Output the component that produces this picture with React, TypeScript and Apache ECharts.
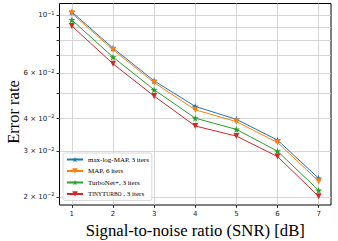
import React, { useEffect, useRef } from "react";
import * as echarts from "echarts";

const snr = [1, 2, 3, 4, 5, 6, 7];
const maxLogMap = [0.1031, 0.0748, 0.056, 0.0446, 0.0398, 0.0331, 0.0236];
const map6 = [0.1018, 0.0737, 0.0551, 0.0433, 0.039, 0.0324, 0.023];
const turboNet = [0.096, 0.0691, 0.0517, 0.0402, 0.0364, 0.03, 0.0212];
const tinyTurbo = [0.091, 0.0651, 0.0489, 0.0375, 0.0343, 0.0286, 0.0201];
const seriesNames = ["max-log-MAP, 3 iters", "MAP, 6 iters", "TurboNet+, 3 iters", "TinyTurbo , 3 iters"];
const yMajor = [0.02, 0.03, 0.04, 0.06, 0.1];
const yAll = [0.02, 0.03, 0.04, 0.05, 0.06, 0.07, 0.08, 0.09, 0.1];
const yTitle = "Error rate";

const STAR =
  "path://M0,-10 L2.35,-3.24 9.51,-3.09 3.8,1.24 5.88,8.09 0,4 -5.88,8.09 -3.8,1.24 -9.51,-3.09 -2.35,-3.24 Z";

const lg = (v: number) => Math.log10(v);

export default function App() {
  const ref = useRef<HTMLDivElement>(null);
  useEffect(() => {
    if (!ref.current) return;
    const chart = echarts.init(ref.current, null, { renderer: "svg" });
    const colors = ["#1f77b4", "#ff7f0e", "#2ca02c", "#d62728"];
    const datas = [maxLogMap, map6, turboNet, tinyTurbo];
    const symbols = [STAR, "triangle", STAR, "triangle"];
    const series: any[] = datas.map((d, i) => ({
      name: seriesNames[i],
      type: "line",
      data: snr.map((x, j) => [x, lg(d[j])]),
      symbol: symbols[i],
      symbolSize: symbols[i] === STAR ? 7 : 6,
      symbolRotate: symbols[i] === "triangle" ? 180 : 0,
      itemStyle: { color: colors[i] },
      lineStyle: { color: colors[i], width: 1 },
      z: 3 + i,
    }));
    const yLabel = (value: number) => {
      const e = Math.floor(value + 1e-9);
      const m = Math.round(Math.pow(10, value - e));
      if (m === 1) return `{b|10}{s|−${-e}}`;
      return `{b|${m} × 10}{s|−${-e}}`;
    };
    const fontSans = "DejaVu Sans";
    chart.setOption({
      animation: false,
      grid: {
        left: 59.5,
        right: 7,
        top: 3.5,
        bottom: 36,
        show: true,
        borderColor: "#000",
        borderWidth: 1,
        outerBoundsMode: "none",
        containLabel: false,
      },
      graphic: [
        {
          type: "text",
          x: 13.5,
          y: 112,
          rotation: Math.PI / 2,
          style: {
            text: yTitle,
            fontFamily: "Liberation Serif",
            fontSize: 16.5,
            fill: "#000",
            align: "center",
            verticalAlign: "middle",
          },
        },
      ],
      xAxis: {
        type: "value",
        min: 0.7,
        max: 7.3,
        name: "Signal-to-noise ratio (SNR) [dB]",
        nameLocation: "middle",
        nameGap: 16,
        nameTextStyle: { fontFamily: "Liberation Serif", fontSize: 16.7, color: "#000" },
        axisLine: { show: false },
        axisTick: { show: true, customValues: snr, length: 3, lineStyle: { color: "#000", width: 0.8 } },
        axisLabel: {
          customValues: snr,
          fontFamily: fontSans,
          fontSize: 7,
          color: "#222",
          margin: 5,
        },
        splitLine: { show: true, lineStyle: { color: "#cccccc", width: 0.8 } },
      },
      yAxis: [
        {
          type: "value",
          min: lg(0.01862),
          max: lg(0.1111),
          axisLine: { show: false },
          axisTick: {
            show: true,
            customValues: yAll.map(lg),
            length: 3,
            lineStyle: { color: "#000", width: 0.8 },
          },
          axisLabel: {
            customValues: yMajor.map(lg),
            formatter: yLabel,
            margin: 5,
            rich: {
              b: { fontFamily: fontSans, fontSize: 7, color: "#222", lineHeight: 10 },
              s: { fontFamily: fontSans, fontSize: 5, color: "#222", lineHeight: 10, verticalAlign: "top", padding: [0, 0, 4, 0] },
            },
          },
          splitLine: { show: true, lineStyle: { color: "#cccccc", width: 0.8 } },
        },
      ],
      legend: {
        left: 63,
        top: 153,
        orient: "vertical",
        itemWidth: 16,
        itemHeight: 7,
        itemGap: 4.5,
        padding: [3, 3, 3, 3],
        borderColor: "#d0d0d0",
        borderWidth: 0.8,
        borderRadius: 2,
        backgroundColor: "rgba(255,255,255,0.85)",
        formatter: (name: string) => {
          if (name.startsWith("TinyTurbo")) return "{n|T}{c|INY}{n|T}{c|URBO}{n| , 3 iters}";
          return `{n|${name}}`;
        },
        textStyle: {
          fontFamily: "Liberation Serif",
          fontSize: 7,
          color: "#000",
          rich: {
            n: { fontFamily: "Liberation Serif", fontSize: 7, color: "#000" },
            c: { fontFamily: "Liberation Serif", fontSize: 5.5, color: "#000" },
          },
        },
        data: seriesNames,
      },
      series,
    });
    return () => chart.dispose();
  }, []);
  return <div ref={ref} style={{ width: 338, height: 241, position: "absolute", left: 0, top: 0 }} />;
}
